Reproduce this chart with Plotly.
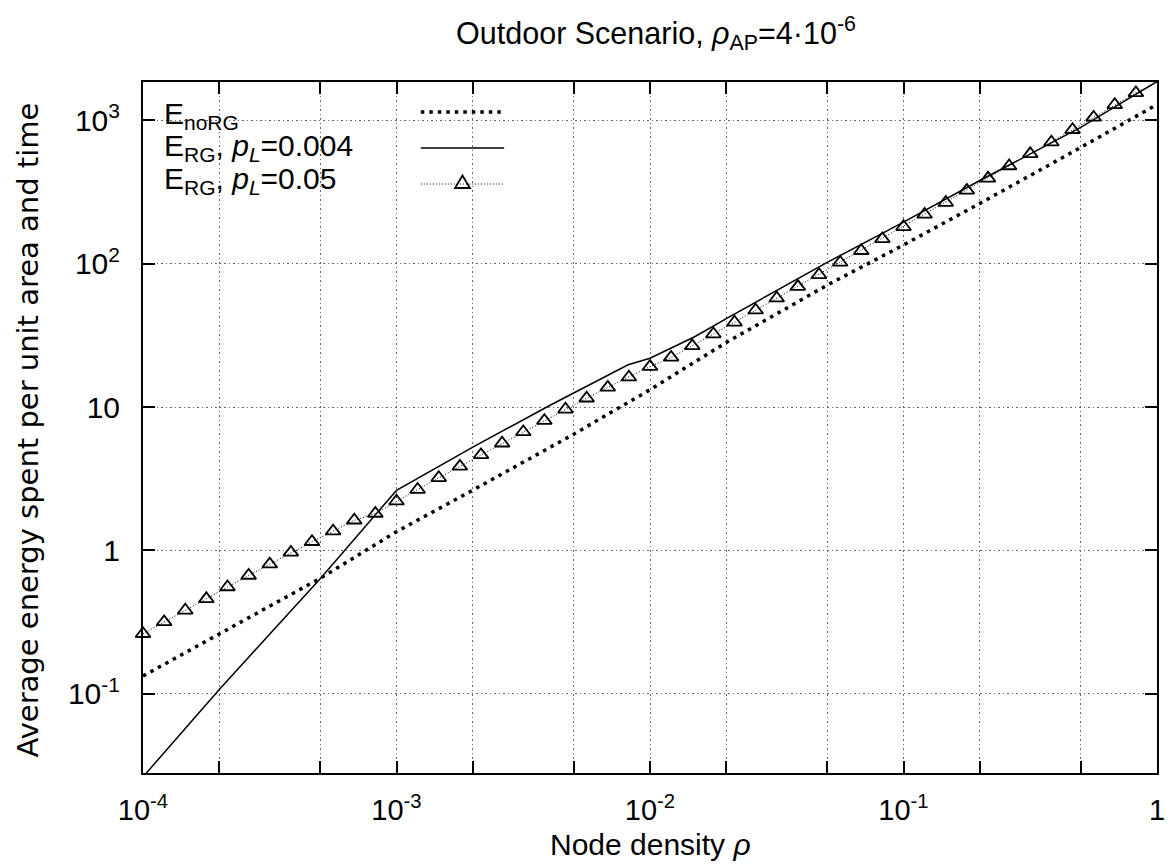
import plotly.graph_objects as go

# ---------------- data ----------------
rho_noRG = [1e-4, 2e-4, 5e-4, 1e-3, 2e-3, 5e-3, 1e-2, 2e-2, 5e-2, 0.1, 0.2, 0.5, 1.0]
E_noRG = [0.133, 0.260, 0.638, 1.35, 2.63, 6.46, 13.2, 28.2, 70.8, 135, 263, 646, 1288]

rho_RG004 = [1e-4, 2e-4, 5e-4, 1e-3, 2e-3, 4e-3, 8.2e-3, 1e-2, 1.5e-2, 2e-2, 5e-2, 0.1, 0.2, 0.5, 1.0]
E_RG004 = [0.0263, 0.107, 0.635, 2.62, 5.25, 10.2, 19.7, 21.9, 30.9, 41.4, 102, 195, 380, 891, 1862]

rho_RG005 = [
    1.0000e-4, 1.2115e-4, 1.4678e-4, 1.7783e-4, 2.1544e-4, 2.6102e-4, 3.1623e-4, 3.8312e-4, 4.6416e-4, 5.6234e-4, 6.8129e-4, 8.2540e-4,
    1.0000e-3, 1.2115e-3, 1.4678e-3, 1.7783e-3, 2.1544e-3, 2.6102e-3, 3.1623e-3, 3.8312e-3, 4.6416e-3, 5.6234e-3, 6.8129e-3, 8.2540e-3,
    1.0000e-2, 1.2115e-2, 1.4678e-2, 1.7783e-2, 2.1544e-2, 2.6102e-2, 3.1623e-2, 3.8312e-2, 4.6416e-2, 5.6234e-2, 6.8129e-2, 8.2540e-2,
    1.0000e-1, 1.2115e-1, 1.4678e-1, 1.7783e-1, 2.1544e-1, 2.6102e-1, 3.1623e-1, 3.8312e-1, 4.6416e-1, 5.6234e-1, 6.8129e-1, 8.2540e-1,
    1.0,
]
E_RG005 = [
    0.262, 0.317, 0.382, 0.459, 0.555, 0.668, 0.802, 0.968, 1.148, 1.361, 1.622, 1.807,
    2.203, 2.655, 3.206, 3.855, 4.634, 5.585, 6.699, 8.035, 9.638, 11.51, 13.71, 16.14,
    19.14, 22.18, 26.67, 32.28, 38.99, 47.32, 57.41, 69.18, 83.56, 101.9, 123.0, 148.9,
    180.7, 220.3, 266.7, 324.3, 393.6, 479.7, 583.4, 703.1, 859.0, 1047, 1282, 1552,
    1850,
]

x_tickvals = [1e-4, 1e-3, 1e-2, 0.1, 1.0]
x_ticktext = ["10<sup>-4</sup>", "10<sup>-3</sup>", "10<sup>-2</sup>", "10<sup>-1</sup>", "1"]
x_minorvals = [2e-4, 5e-4, 2e-3, 5e-3, 2e-2, 5e-2, 0.2, 0.5]
y_tickvals = [0.1, 1, 10, 100, 1000]
y_ticktext = ["10<sup>-1</sup>", "1", "10", "10<sup>2</sup>", "10<sup>3</sup>"]

names = ["E<sub>noRG</sub>",
         "E<sub>RG</sub>, <i>p<sub>L</sub></i>=0.004",
         "E<sub>RG</sub>, <i>p<sub>L</sub></i>=0.05"]

# ---------------- layout constants ----------------
W, H = 1176, 864
ML, MR, MT, MB = 143, 11, 82, 91
PW, PH = W - ML - MR, H - MT - MB
FONT = "Liberation Sans, Arial, Helvetica, sans-serif"
FONT2 = "DejaVu Sans, Liberation Sans, sans-serif"


def px(x, y):
    return (x - ML) / PW, (H - MB - y) / PH


fig = go.Figure()
fig.add_trace(go.Scatter(x=rho_noRG, y=E_noRG, mode="lines", name=names[0],
                         line=dict(color="black", width=3.5, dash="3.5px,5px")))
fig.add_trace(go.Scatter(x=rho_RG004, y=E_RG004, mode="lines", name=names[1],
                         line=dict(color="black", width=1.5)))
fig.add_trace(go.Scatter(x=rho_RG005, y=E_RG005, mode="lines+markers", name=names[2],
                         line=dict(color="black", width=1, dash="1px,2px"),
                         marker=dict(symbol="triangle-up-open", size=13, color="black",
                                     line=dict(width=1.8, color="black")),
                         cliponaxis=False))

grid_style = dict(gridcolor="#666", gridwidth=1, griddash="1.5px,3px")
axis_common = dict(type="log", showline=True, linecolor="black", linewidth=2,
                   mirror="ticks", ticks="inside", ticklen=12, tickwidth=1.5,
                   tickcolor="black", showgrid=True, zeroline=False, **grid_style)

fig.update_xaxes(range=[-4, 0], tickmode="array", tickvals=x_tickvals, ticktext=x_ticktext,
                 tickfont=dict(family=FONT, size=29, color="black"), ticklabelstandoff=10,
                 minor=dict(tickmode="array", tickvals=x_minorvals, ticks="inside", ticklen=12,
                            tickwidth=1.5, tickcolor="black", showgrid=True, **grid_style),
                 **axis_common)
fig.update_yaxes(range=[-1.553, 3.267], tickmode="array", tickvals=y_tickvals, ticktext=y_ticktext,
                 tickfont=dict(family=FONT, size=30, color="black"), ticklabelstandoff=15,
                 **axis_common)

shapes = []
# legend background box (covers grid lines)
x0, y0 = px(ML, 203)
x1, y1 = px(527, MT)
shapes.append(dict(type="rect", xref="paper", yref="paper", x0=x0, y0=y0, x1=x1, y1=y1,
                   fillcolor="white", line=dict(width=0), layer="between"))
# legend samples
sx0, sx1 = 423, 507
for yy, st in [(112, dict(color="black", width=3.5, dash="3.5px,5px")),
               (148, dict(color="black", width=1.5)),
               (184, dict(color="black", width=1, dash="1px,2px"))]:
    a, b = px(sx0, yy)
    c, d = px(sx1, yy)
    shapes.append(dict(type="line", xref="paper", yref="paper", x0=a, y0=b, x1=c, y1=d, line=st))
# legend triangle
cx, cy = 465, 183
tri = [px(cx - 7.5, cy + 5), px(cx + 7.5, cy + 5), px(cx, cy - 7.5)]
path = "M {:.5f},{:.5f} L {:.5f},{:.5f} L {:.5f},{:.5f} Z".format(*tri[0], *tri[1], *tri[2])
shapes.append(dict(type="path", xref="paper", yref="paper", path=path,
                   line=dict(color="black", width=1.8), fillcolor="rgba(0,0,0,0)"))

annotations = []
for yy, txt in [(115, names[0]), (147, names[1]), (180, names[2])]:
    a, b = px(162, yy)
    annotations.append(dict(xref="paper", yref="paper", x=a, y=b, text=txt, showarrow=False,
                            xanchor="left", yanchor="middle",
                            font=dict(family=FONT, size=30, color="black")))
# axis titles
annotations.append(dict(xref="paper", yref="paper", x=0.5, y=0, yshift=-71, text="Node density <i>ρ</i>",
                        showarrow=False, xanchor="center", yanchor="middle",
                        font=dict(family=FONT, size=30, color="black")))
annotations.append(dict(xref="paper", yref="paper", x=0, y=0.5, xshift=-(ML - 27), yshift=-3,
                        text="Average energy spent per unit area and time", textangle=-90,
                        showarrow=False, xanchor="center", yanchor="middle",
                        font=dict(family=FONT2, size=29, color="black")))

fig.update_layout(
    width=W, height=H,
    margin=dict(l=ML, r=MR, t=MT, b=MB, pad=0),
    paper_bgcolor="white", plot_bgcolor="white",
    showlegend=False,
    title=dict(text="Outdoor Scenario, <i>ρ</i><sub>AP</sub>=4·10<sup>-6</sup>",
               x=656 / W, xanchor="center", xref="container",
               y=1 - 33 / H, yanchor="middle",
               font=dict(family=FONT, size=30.5, color="black")),
    shapes=shapes, annotations=annotations,
)

fig.write_html("out.html", config={"displayModeBar": False},
               post_script="document.body.style.margin='0px';")
